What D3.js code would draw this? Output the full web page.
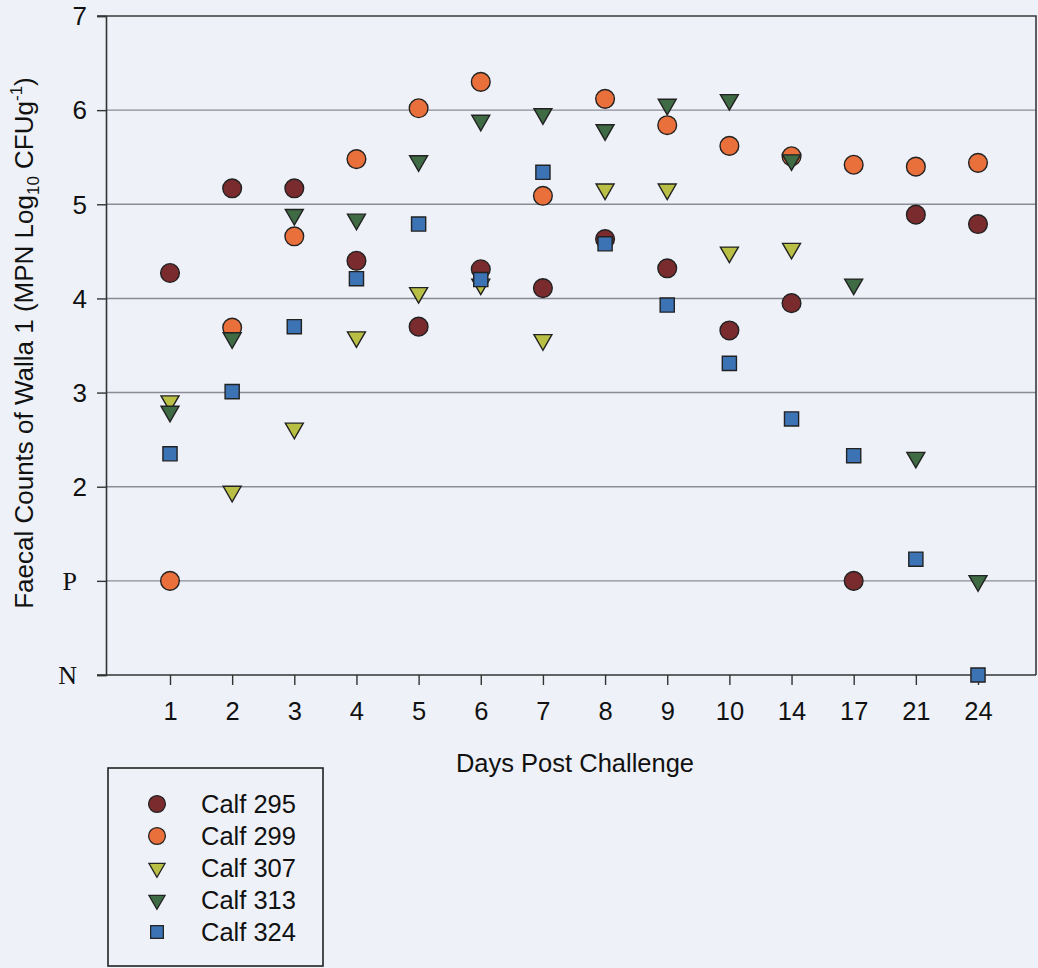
<!DOCTYPE html>
<html>
<head>
<meta charset="utf-8">
<script src="https://cdn.jsdelivr.net/npm/d3@7"></script>
<style>
  html, body { margin: 0; padding: 0; background: #eef1f8; }
  svg { display: block; }
  text { font-family: "Liberation Sans", Arial, sans-serif; fill: #111; }
</style>
</head>
<body>
<svg id="chart" width="1038" height="968"></svg>
<script>
// Sampling days after challenge (categorical axis)
const days = ["1", "2", "3", "4", "5", "6", "7", "8", "9", "10", "14", "17", "21", "24"];

// Log10 MPN counts per calf; 1 = P (positive by enrichment), 0 = N (negative), null = not sampled
const calf295 = [4.27, 5.17, 5.17, 4.40, 3.70, 4.31, 4.11, 4.63, 4.32, 3.66, 3.95, 1.0, 4.89, 4.79];
const calf299 = [1.0, 3.69, 4.66, 5.48, 6.02, 6.30, 5.09, 6.12, 5.84, 5.62, 5.51, 5.42, 5.40, 5.44];
const calf307 = [2.91, 1.95, 2.62, 3.59, 4.06, 4.15, 3.56, 5.16, 5.16, 4.49, 4.53, null, null, null];
const calf313 = [2.80, 3.58, 4.89, 4.84, 5.46, 5.89, 5.96, 5.79, 6.06, 6.11, 5.47, 4.15, 2.31, 1.0];
const calf324 = [2.35, 3.01, 3.70, 4.21, 4.79, 4.20, 5.34, 4.58, 3.93, 3.31, 2.72, 2.33, 1.23, 0];

// Y tick values and their labels
const yTickValues = [0, 1, 2, 3, 4, 5, 6, 7];
const yTickLabels = ["N", "P", "2", "3", "4", "5", "6", "7"];

const seriesNames = ["Calf 295", "Calf 299", "Calf 307", "Calf 313", "Calf 324"];
const seriesValues = [calf295, calf299, calf307, calf313, calf324];
const seriesFill = ["#7a2b2e", "#e9703b", "#b9bf44", "#3e6a44", "#3c73b5"];
const seriesShape = ["circle", "circle", "tri", "tri", "square"];

const svg = d3.select("#chart");
const plotLeft = 106, plotRight = 1036, plotTop = 16, plotBottom = 675;
const labelSize = "25.5px";

const x = d3.scalePoint().domain(days).range([170, 978]);
const y = d3.scaleLinear().domain([0, 7]).range([plotBottom, plotTop]);

// Gridlines
svg.append("g")
  .selectAll("line")
  .data(yTickValues.filter(v => v > 0 && v < 7))
  .join("line")
  .attr("x1", plotLeft).attr("x2", plotRight)
  .attr("y1", d => y(d)).attr("y2", d => y(d))
  .attr("stroke", "#8a8d96").attr("stroke-width", 1.4);

// Frame: top and right edges
svg.append("path")
  .attr("d", `M${plotLeft - 9},${plotTop}H${plotRight}V${plotBottom}`)
  .attr("fill", "none").attr("stroke", "#3a3a3a").attr("stroke-width", 1.6);

// Y axis
const yAxis = d3.axisLeft(y)
  .tickValues(yTickValues)
  .tickSize(9)
  .tickFormat((d, i) => yTickLabels[i]);
const gy = svg.append("g").attr("transform", `translate(${plotLeft},0)`).call(yAxis);
gy.select(".domain").attr("stroke", "#333").attr("stroke-width", 1.6);
gy.selectAll(".tick line").attr("stroke", "#333").attr("stroke-width", 1.4);
gy.selectAll(".tick text")
  .attr("dy", "0.34em")
  .style("font-size", "26px")
  .style("font-family", d => d < 2 ? "'Liberation Serif', 'Times New Roman', serif" : "'Liberation Sans', Arial, sans-serif")
  .attr("x", d => d < 2 ? -29 : -19)
  .attr("fill", "#111");

// X axis
const xAxis = d3.axisBottom(x).tickSize(10).tickSizeOuter(0);
const gx = svg.append("g").attr("transform", `translate(0,${plotBottom})`).call(xAxis);
gx.select(".domain").attr("d", `M${plotLeft - 9},0H${plotRight}`).attr("stroke", "#333").attr("stroke-width", 1.6);
gx.selectAll(".tick line").attr("stroke", "#333").attr("stroke-width", 1.4);
gx.selectAll(".tick text")
  .attr("y", 27).attr("dy", "0.71em")
  .style("font-size", labelSize).attr("fill", "#111");

// Axis titles
svg.append("text")
  .attr("x", 575).attr("y", 772)
  .attr("text-anchor", "middle")
  .style("font-size", labelSize)
  .text("Days Post Challenge");

const yt = svg.append("text")
  .attr("transform", `translate(33,343) rotate(-90)`)
  .attr("text-anchor", "middle")
  .style("font-size", "26px");
yt.append("tspan").text("Faecal Counts of Walla 1 (MPN Log");
yt.append("tspan").attr("dy", 6).style("font-size", "17px").text("10");
yt.append("tspan").attr("dy", -6).text(" CFUg");
yt.append("tspan").attr("dy", -11).style("font-size", "17px").text("-1");
yt.append("tspan").attr("dy", 11).text(")");

// Marker path generators
const symbolFor = {
  circle: d3.symbol(d3.symbolCircle, 275)(),
  tri: d3.symbol(d3.symbolTriangle, 140)(),
  square: d3.symbol(d3.symbolSquare, 200)()
};
function markerTransform(shape, cx, cy) {
  return shape === "tri" ? `translate(${cx},${cy}) rotate(180)` : `translate(${cx},${cy})`;
}

// Data markers, one layer per calf
seriesValues.forEach((vals, s) => {
  const pts = days.map((d, i) => ({ day: d, v: vals[i] })).filter(p => p.v !== null);
  svg.append("g")
    .selectAll("path")
    .data(pts)
    .join("path")
    .attr("d", symbolFor[seriesShape[s]])
    .attr("transform", p => markerTransform(seriesShape[s], x(p.day), y(p.v)))
    .attr("fill", seriesFill[s])
    .attr("stroke", "#222")
    .attr("stroke-width", 1.4);
});

// Legend
const lg = svg.append("g");
lg.append("rect")
  .attr("x", 108).attr("y", 768).attr("width", 215).attr("height", 198)
  .attr("fill", "none").attr("stroke", "#222").attr("stroke-width", 1.6);
seriesNames.forEach((name, s) => {
  const cy = 804 + s * 32;
  lg.append("path")
    .attr("d", symbolFor[seriesShape[s]])
    .attr("transform", markerTransform(seriesShape[s], 157, cy) + " scale(0.9)")
    .attr("fill", seriesFill[s]).attr("stroke", "#222").attr("stroke-width", 1.4);
  lg.append("text")
    .attr("x", 201).attr("y", cy).attr("dy", "0.36em")
    .style("font-size", labelSize)
    .text(name);
});
</script>
</body>
</html>
